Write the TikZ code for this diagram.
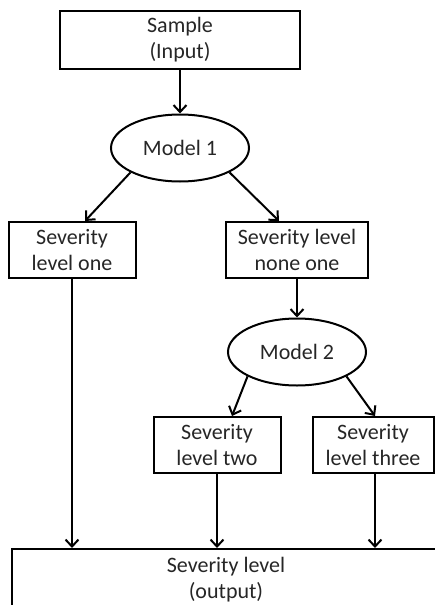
\documentclass[tikz,border=0pt]{standalone}
\usepackage{fontspec}
\setmainfont{Carlito}
\usetikzlibrary{positioning, shapes.geometric, arrows.meta}
\tikzset{
->, % every connector is directed
>={Straight Barb[length=7pt,width=13pt]}, % open barb heads
every node/.style={font=\fontsize{22}{26}\selectfont, text=black!85}, % text size in all nodes
box/.style={draw, rectangle, align=center, inner sep=0pt, minimum height=56pt}, % level boxes
model/.style={draw, ellipse, inner sep=0pt, minimum width=138pt, minimum height=67pt}, % model ellipses
}

\begin{document}
\begin{tikzpicture}[x=1pt, y=-1pt, line width=2pt]
  \useasboundingbox (0,0) rectangle (435,605);
  \clip (0,0) rectangle (435,605);

  \node[box, minimum width=240pt, minimum height=58pt] (sample) at (180,40) {Sample\\(Input)};
  \node[model, below of=sample, node distance=108pt] (model1) {Model 1};
  \node[box, minimum width=127pt, below of=model1, node distance=102pt, xshift=-108pt] (one) {Severity\\level one};
  \node[box, minimum width=142pt, below of=model1, node distance=102pt, xshift=117pt] (noneone) {Severity level\\none one};
  \node[model, below of=noneone, node distance=102pt] (model2) {Model 2};
  \node[box, minimum width=127pt, below of=model2, node distance=93pt, xshift=-80pt] (two) {Severity\\level two};
  \node[box, minimum width=121pt, below of=model2, node distance=93pt, xshift=76pt] (three) {Severity\\level three};
  \node[box, minimum width=428pt, minimum height=62pt] (output) at (226,580) {Severity level\\(output)};

  \draw (sample) edge (model1)
  (model1.south west) edge ([xshift=13pt]one.north)
  (model1.south east) edge ([xshift=-18pt]noneone.north)
  (noneone) edge (model2)
  (model2.south west) edge ([xshift=15pt]two.north)
  (model2.south east) edge ([xshift=2pt]three.north)
  (one.south) edge (one.south |- output.north)
  (two.south) edge (two.south |- output.north)
  ([xshift=2pt]three.south) -- ([xshift=2pt]three.south |- output.north);
\end{tikzpicture}
\end{document}
